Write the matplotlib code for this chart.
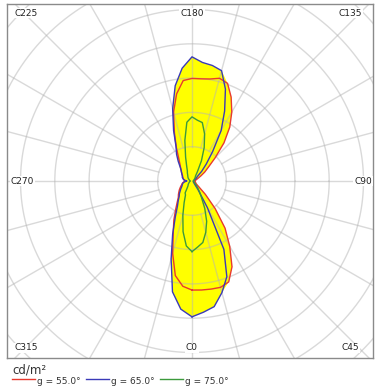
import numpy as np
import matplotlib
matplotlib.use('Agg')
import matplotlib.pyplot as plt

# C-plane angles (deg) and luminance (ring units)
c_angles = np.arange(0, 360, 5)

lum_55 = [3.18, 3.19, 3.20, 3.21, 3.13, 2.76, 2.20, 1.68, 1.05, 0.55,
          0.25, 0.16, 0.13, 0.12, 0.11, 0.10, 0.09, 0.08, 0.08, 0.09,
          0.10, 0.12, 0.15, 0.20, 0.30, 0.45, 0.62, 0.95, 1.45, 1.92,
          2.32, 2.70, 3.03, 3.10, 3.02, 2.99, 2.99, 2.94, 2.58, 2.08,
          1.50, 1.08, 0.78, 0.62, 0.52, 0.45, 0.40, 0.36, 0.32, 0.30,
          0.28, 0.26, 0.25, 0.22, 0.20, 0.23, 0.27, 0.30, 0.32, 0.36,
          0.40, 0.45, 0.50, 0.56, 0.62, 0.75, 0.95, 1.25, 1.60, 2.18,
          2.80, 3.08]

lum_65 = [3.96, 3.84, 3.72, 3.37, 2.97, 2.20, 0.90, 0.30, 0.12, 0.08,
          0.06, 0.05, 0.05, 0.04, 0.04, 0.04, 0.04, 0.04, 0.04, 0.04,
          0.04, 0.05, 0.06, 0.08, 0.12, 0.16, 0.20, 0.40, 0.65, 1.05,
          1.70, 2.25, 2.85, 3.33, 3.42, 3.47, 3.62, 3.30, 2.82, 2.18,
          1.57, 1.10, 0.90, 0.70, 0.54, 0.45, 0.40, 0.36, 0.33, 0.31,
          0.30, 0.27, 0.25, 0.20, 0.15, 0.20, 0.25, 0.28, 0.30, 0.32,
          0.35, 0.40, 0.45, 0.52, 0.58, 0.70, 0.85, 1.15, 1.65, 2.35,
          3.28, 3.75]

lum_75 = [2.06, 1.93, 1.82, 1.55, 1.25, 0.88, 0.55, 0.38, 0.25, 0.18,
          0.12, 0.09, 0.07, 0.06, 0.05, 0.05, 0.04, 0.04, 0.04, 0.04,
          0.04, 0.05, 0.05, 0.06, 0.07, 0.08, 0.10, 0.12, 0.15, 0.18,
          0.32, 0.65, 1.04, 1.42, 1.73, 1.78, 1.87, 1.72, 1.20, 0.72,
          0.45, 0.32, 0.27, 0.22, 0.19, 0.17, 0.15, 0.13, 0.11, 0.09,
          0.08, 0.07, 0.06, 0.05, 0.05, 0.05, 0.06, 0.07, 0.08, 0.09,
          0.10, 0.12, 0.14, 0.16, 0.18, 0.24, 0.40, 0.45, 0.67, 1.03,
          1.50, 1.90]

series_labels = ['g = 55.0°', 'g = 65.0°', 'g = 75.0°']
series_colors = ['#e8392f', '#3a3ab8', '#3c9a3c']
corner_labels = ['C0', 'C45', 'C90', 'C135', 'C180', 'C225', 'C270', 'C315']
unit_label = 'cd/m²'


def to_xy(ang, r):
    # C0 at the bottom, C90 to the right
    t = np.deg2rad(np.append(ang, ang[0]))
    r = np.append(r, r[0])
    return r * np.sin(t), -r * np.cos(t)


fig = plt.figure(figsize=(3.82, 3.91), dpi=100)
ax = fig.add_axes([7 / 382, 33 / 391, 366 / 382, 354 / 391])
ring = 34.3
ax.set_xlim(-185 / ring, 181 / ring)
ax.set_ylim(-177 / ring, 177 / ring)
ax.set_aspect('equal')
ax.set_xticks([])
ax.set_yticks([])
for s in ax.spines.values():
    s.set_color('#8a8a8a')
    s.set_linewidth(1.0)

# yellow envelope
env = np.max([lum_55, lum_65, lum_75], axis=0)
ex, ey = to_xy(c_angles, env)
ax.fill(ex, ey, color='#ffff00', zorder=1, lw=0)

# grid: circles and spokes
grid_kw = dict(color='#b4b4b4', alpha=0.5, lw=1.0, zorder=2)
tt = np.linspace(0, 2 * np.pi, 400)
for rr in range(1, 9):
    ax.plot(rr * np.cos(tt), rr * np.sin(tt), **grid_kw)
for a in np.deg2rad(np.arange(0, 360, 15)):
    ax.plot([np.sin(a), 9 * np.sin(a)], [-np.cos(a), -9 * np.cos(a)], **grid_kw)

# curves
for vals, col in zip([lum_55, lum_65, lum_75], series_colors):
    x, y = to_xy(c_angles, np.array(vals))
    ax.plot(x, y, color=col, lw=1.0, zorder=3)

# C-plane labels
label_pos = {'C0': (192, 348), 'C45': (350, 348), 'C90': (363, 181),
             'C135': (350, 13), 'C180': (192, 13), 'C225': (26, 13),
             'C270': (22, 181), 'C315': (26, 348)}
for lab in corner_labels:
    px, py = label_pos[lab]
    fig.text(px / 382, 1 - py / 391, lab, ha='center', va='center',
             fontsize=6.5, color='#222222', zorder=5,
             bbox=dict(facecolor='white', edgecolor='none', pad=0.6))

# legend below
fig.text(12 / 382, 1 - 370 / 391, unit_label, fontsize=8.5, color='#333333',
         ha='left', va='center')
starts = [12, 86, 160]
for x0, lab, col in zip(starts, series_labels, series_colors):
    fig.add_artist(plt.Line2D([x0 / 382, (x0 + 23) / 382],
                              [1 - 379 / 391, 1 - 379 / 391], color=col, lw=1.0))
    fig.text((x0 + 25) / 382, 1 - 382 / 391, lab, fontsize=6.5,
             color='#333333', ha='left', va='center')

fig.savefig('out.png', dpi=100)
